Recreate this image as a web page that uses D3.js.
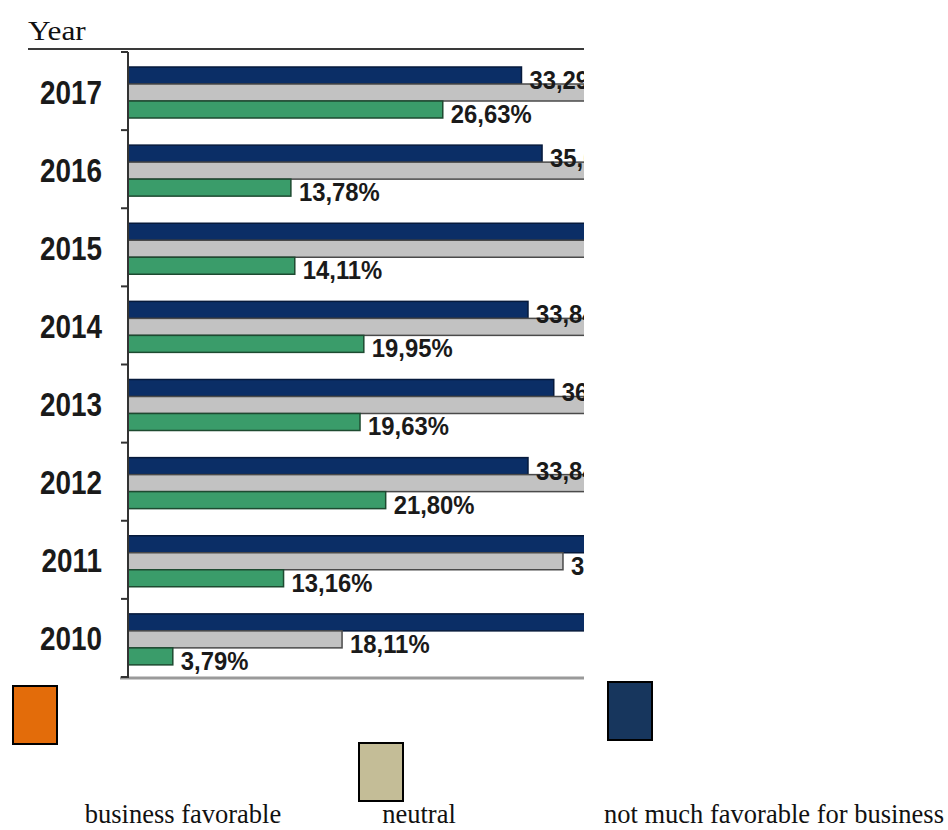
<!DOCTYPE html>
<html>
<head>
<meta charset="utf-8">
<script src="https://cdn.jsdelivr.net/npm/d3@7"></script>
<style>
  body { margin: 0; background: #fff; }
  svg { display: block; }
</style>
</head>
<body>
<svg id="chart" width="948" height="830"></svg>
<script>
// data (values in %)
const years = ["2017", "2016", "2015", "2014", "2013", "2012", "2011", "2010"];
const seriesKeys = ["notFavorable", "neutral", "favorable"];
const notFavorable = [33.29, 35.03, 42.50, 33.84, 36.02, 33.84, 50.04, 78.10];
const neutral = [40.08, 51.19, 43.39, 46.21, 44.35, 44.36, 36.80, 18.11];
const favorable = [26.63, 13.78, 14.11, 19.95, 19.63, 21.80, 13.16, 3.79];

const legendLabels = ["business favorable", "neutral", "not much favorable for business"];
const legendColors = ["#e36c0a", "#c4bd97", "#17365d"];

const values = {notFavorable, neutral, favorable};
const barFill = {notFavorable: "#0b2e66", neutral: "#c2c2c2", favorable: "#3a9c6a"};
const barStroke = {notFavorable: "#061a3c", neutral: "#4a4a4a", favorable: "#1d4a30"};

const svg = d3.select("#chart");

// the embedded chart is cropped on the right at x = 584
const clipRight = 584;
svg.append("defs").append("clipPath").attr("id", "crop")
  .append("rect").attr("x", 0).attr("y", 46).attr("width", clipRight).attr("height", 640);

const x = d3.scaleLinear().domain([0, 1]).range([128, 128 + 11.82]);
const y = d3.scaleBand().domain(years).range([52, 677]).padding(0);
const sub = d3.scaleBand().domain(seriesKeys).range([15, 66]).padding(0);

const fmt = v => d3.format(".2f")(v).replace(".", ",") + "%";

// "Year" title (a bit wide, like the picture)
svg.append("text")
  .attr("transform", "translate(28,40) scale(1.12,1)")
  .style("font-family", "'Liberation Serif', 'Times New Roman', serif")
  .style("font-size", "28px")
  .attr("fill", "#111")
  .text("Year");

const g = svg.append("g").attr("clip-path", "url(#crop)");

// top border of the picture
g.append("line")
  .attr("x1", 28).attr("x2", clipRight).attr("y1", 49).attr("y2", 49)
  .attr("stroke", "#3a3a3a").attr("stroke-width", 2);

// bottom axis line
g.append("line")
  .attr("x1", 120).attr("x2", clipRight).attr("y1", 678).attr("y2", 678)
  .attr("stroke", "#9a9a9a").attr("stroke-width", 3);

// bars
const groups = g.selectAll("g.year")
  .data(years)
  .join("g")
  .attr("class", "year")
  .attr("transform", d => `translate(0,${y(d)})`);

seriesKeys.forEach(key => {
  groups.append("rect")
    .attr("x", x(0))
    .attr("y", sub(key))
    .attr("width", (d, i) => x(values[key][i]) - x(0))
    .attr("height", sub.bandwidth())
    .attr("fill", barFill[key])
    .attr("stroke", barStroke[key])
    .attr("stroke-width", 1.5);
});

// value labels, only those that start inside the cropped area
seriesKeys.forEach(key => {
  const labels = years
    .map((yr, i) => ({yr, v: values[key][i]}))
    .filter(d => x(d.v) + 8 < clipRight);
  g.selectAll(null)
    .data(labels)
    .join("text")
    .attr("transform", d =>
      `translate(${x(d.v) + 8},${y(d.yr) + sub(key) + sub.bandwidth() / 2 + 4}) scale(0.9,1)`)
    .attr("dominant-baseline", "central")
    .style("font-family", "'Liberation Sans Narrow', 'Arial Narrow', Arial, sans-serif")
    .style("font-weight", "bold")
    .style("font-size", "26.5px")
    .attr("fill", "#1a1a1a")
    .text(d => fmt(d.v));
});

// vertical axis with ticks at band edges
g.append("line")
  .attr("x1", x(0)).attr("x2", x(0)).attr("y1", 52).attr("y2", 678)
  .attr("stroke", "#333").attr("stroke-width", 2);

g.selectAll("line.tick")
  .data(years.concat(["end"]))
  .join("line")
  .attr("class", "tick")
  .attr("x1", x(0) - 7).attr("x2", x(0))
  .attr("y1", (d, i) => y.range()[0] + i * y.step())
  .attr("y2", (d, i) => y.range()[0] + i * y.step())
  .attr("stroke", "#333").attr("stroke-width", 2);

// year labels (condensed bold, as in the picture)
svg.selectAll("text.yl")
  .data(years)
  .join("text")
  .attr("class", "yl")
  .attr("transform", d => `translate(102,${y(d) + y.bandwidth() / 2 + 1}) scale(0.82,1)`)
  .attr("text-anchor", "end")
  .attr("dominant-baseline", "central")
  .style("font-family", "'Liberation Sans Narrow', 'Arial Narrow', Arial, sans-serif")
  .style("font-weight", "bold")
  .style("font-size", "34px")
  .attr("fill", "#1a1a1a")
  .text(d => d);

// legend (as in the picture: swatches at staggered heights, labels below)
const legendSwatch = [
  {x: 13, y: 686},
  {x: 359, y: 743},
  {x: 608, y: 682}
];
const legendText = [
  {x: 183},
  {x: 419},
  {x: 774}
];

svg.selectAll("rect.lg")
  .data(legendLabels)
  .join("rect")
  .attr("class", "lg")
  .attr("x", (d, i) => legendSwatch[i].x)
  .attr("y", (d, i) => legendSwatch[i].y)
  .attr("width", 44).attr("height", 58)
  .attr("fill", (d, i) => legendColors[i])
  .attr("stroke", "#000").attr("stroke-width", 2);

svg.selectAll("text.lg")
  .data(legendLabels)
  .join("text")
  .attr("class", "lg")
  .attr("x", (d, i) => legendText[i].x)
  .attr("y", 823)
  .attr("text-anchor", "middle")
  .style("font-family", "'Liberation Serif', 'Times New Roman', serif")
  .style("font-size", "26.5px")
  .attr("fill", "#111")
  .text(d => d);
</script>
</body>
</html>
